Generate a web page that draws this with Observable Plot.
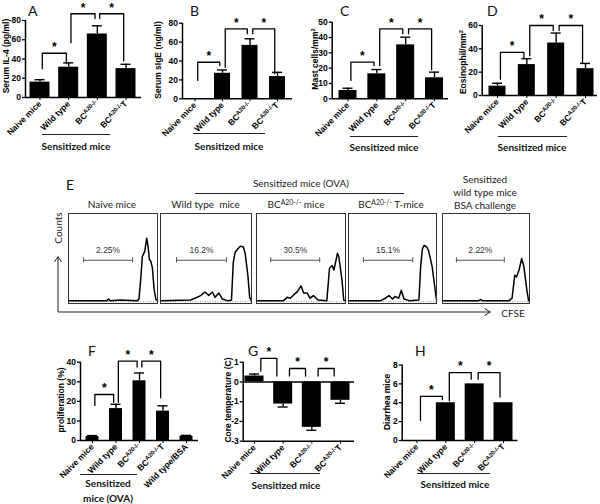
<!DOCTYPE html>
<html>
<head>
<meta charset="utf-8">
<script src="https://cdn.jsdelivr.net/npm/d3@7"></script>
<script src="https://cdn.jsdelivr.net/npm/@observablehq/plot@0.6"></script>
<style>
  html, body { margin: 0; padding: 0; background: #fff; }
  #fig { position: relative; width: 600px; height: 504px; overflow: hidden; background: #fff; }
  #fig svg { overflow: visible; }
  .t { position: absolute; white-space: nowrap; line-height: 1; }
  .yl { font: bold 8.5px "Liberation Sans", Arial, sans-serif; color: #000; }
  .pl { font: 14px Lato, "Open Sans", sans-serif; color: #111; }
  .grp { font: bold 10px Lato, sans-serif; color: #111; }
  .et { font: 10px Lato, sans-serif; color: #222; }
  .t sup { font-size: 0.68em; vertical-align: 0.5em; line-height: 0; }
  .ln { position: absolute; height: 1px; background: #222; }
</style>
</head>
<body>
<div id="fig"></div>
<script>
// ---------------- DATA ----------------
const groups4 = ["Naive mice", "Wild type", "BC^{A20-/-}", "BC^{A20-/-}T"];
const groups5 = ["Naive mice", "Wild type", "BC^{A20-/-}", "BC^{A20-/-}T", "Wild type/BSA"];

// A: Serum IL-4
const il4Mean = [16, 31.5, 66, 30];
const il4Err = [2.5, 4.5, 8.5, 4.5];
const il4Ticks = [0, 20, 40, 60, 80];
const il4Sig = [[0, 1, 46, 30, 35], [1, 2, 87, 57, 82], [2, 3, 87, 82, 38]];

// B: Serum sIgE
const igeMean = [0, 27, 56.5, 23.5];
const igeErr = [0, 3.5, 7, 4.5];
const igeTicks = [0, 20, 40, 60, 80];
const igeSig = [[0, 1, 38.7, 19.4, 35.2], [1, 2, 74, 33.4, 68.8], [2, 3, 74, 68.8, 26.5]];

// C: Mast cells
const mastMean = [5.4, 16.3, 35.2, 13.7];
const mastErr = [1.5, 2.8, 5, 3.7];
const mastTicks = [0, 10, 20, 30, 40, 50];
const mastSig = [[0, 1, 24, 12, 21.7], [1, 2, 45.7, 21.7, 42.4], [2, 3, 45.7, 42.4, 19]];

// D: Eosinophil
const eosMean = [8, 26.5, 45, 23];
const eosErr = [2.5, 5, 8.5, 4.5];
const eosTicks = [0, 20, 40, 60];
const eosSig = [[0, 1, 37, 14, 32], [1, 2, 60, 34, 55.7], [2, 3, 60, 55.7, 28.5]];

// F: proliferation
const prolMean = [2, 16.3, 30.5, 15, 2.2];
const prolErr = [0.5, 2.2, 4, 2.7, 0.4];
const prolTicks = [0, 10, 20, 30, 40];
const prolSig = [[0, 1, 23.5, 17.9, 19.5], [1, 2, 40.5, 19.5, 37.5], [2, 3, 40.5, 37.5, 21.8]];

// G: core temperature
const tempMean = [0.3, -1.12, -2.3, -0.93];
const tempErr = [0.1, 0.15, 0.15, 0.15];
const tempTicks = [-3, -2, -1, 0, 1];
const tempSig = [[0, 1, 1.19, 0.55, 0.3], [1, 2, 0.68, 0.3, 0.3], [2, 3, 0.68, 0.3, 0.3]];

// H: diarrhea mice
const diarMean = [0, 4, 6, 4];
const diarTicks = [0, 2, 4, 6, 8];
const diarSig = [[0, 1, 4.68, 2.13, 4.33], [1, 2, 7.2, 4.2, 6.5], [2, 3, 7.2, 6.5, 4.6]];

// E: CFSE histograms (x = CFSE position %, y = counts %)
const h1x = [0, 43, 45, 47, 58, 77, 79.2, 81.1, 83, 85.7, 87.9, 89.4, 90.9, 92.5, 94.3, 96.2, 98.1, 100];
const h1y = [1, 1, 3, 1, 2, 1, 3, 25, 51.5, 57, 72, 62.7, 47.8, 46, 38, 14, 3, 1];
const h2x = [0, 33, 38, 44, 49, 53, 57, 60, 64, 68, 74, 78, 80, 82, 85, 88, 91, 93, 96, 98, 100];
const h2y = [1, 2, 4, 7, 11, 7, 11, 5, 10, 3, 1, 2, 45, 56, 60, 63, 62, 55, 30, 5, 1];
const h3x = [0, 30, 34.5, 38, 42, 46, 50, 53, 57, 60, 64, 69, 79, 82, 85, 87, 91, 92.5, 96, 98, 100];
const h3y = [1, 1, 5, 4, 8, 11.5, 18, 10, 10, 4, 7, 2, 1, 38, 41, 36, 55, 51, 25, 2, 1];
const h4x = [0, 36, 42, 46, 50, 53, 57, 60, 63, 70, 80, 82, 84, 86, 89, 91, 95, 98, 100];
const h4y = [1, 1, 4, 7, 3, 6, 4, 13, 3, 1, 2, 40, 60, 64, 62, 58, 40, 17, 2];
const h5x = [0, 41, 44, 46, 76, 80, 83, 85, 88, 91, 93.5, 97, 99, 100];
const h5y = [1, 1, 2.5, 1, 1, 4, 30, 28, 36, 49, 40, 13, 1, 1];
const gateLo = [17, 17.6, 16, 17, 16];
const gateHi = [72, 72.5, 71, 73, 71];
const gatePct = ["2.25%", "16.2%", "30.5%", "15.1%", "2.22%"];

// ---------------- HELPERS ----------------
const fig = document.getElementById("fig");
function put(node, left, top) {
  node.style.position = "absolute";
  node.style.left = left + "px";
  node.style.top = top + "px";
  fig.appendChild(node);
}
function txt(cls, content, x, y, opt = {}) {
  const d = document.createElement("div");
  d.className = "t " + cls;
  d.innerHTML = content;
  d.style.left = x + "px";
  d.style.top = y + "px";
  const base = opt.anchor === "start" ? "translate(0,-50%)" : "translate(-50%,-50%)";
  d.style.transform = base + (opt.rotate ? ` rotate(${opt.rotate}deg)` : "");
  fig.appendChild(d);
}
function hline(x1, x2, y) {
  const d = document.createElement("div");
  d.className = "ln";
  d.style.left = x1 + "px"; d.style.top = y + "px"; d.style.width = (x2 - x1) + "px";
  fig.appendChild(d);
}
function supify(svg) {
  d3.select(svg).selectAll("text").each(function () {
    const t = this.textContent;
    const m = t.match(/^(.*)\^\{(.*)\}(.*)$/);
    if (!m) return;
    const s = d3.select(this);
    s.selectAll("*").remove();
    s.text(null);
    s.append("tspan").text(m[1]);
    s.append("tspan").attr("dy", "-3").attr("font-size", "6px").text(m[2]);
    if (m[3]) s.append("tspan").attr("dy", "3").text(m[3]);
  });
}

function barPanel(cfg, cats, mean, err, sig, yTicks, yDomain) {
  const n = cats.length;
  const unit = (cfg.cN - cfg.c0) / (n - 1);
  const xDom = [-(cfg.c0 - cfg.axisX) / unit, n - 1 + (cfg.endX - cfg.cN) / unit];
  const x0 = xDom[0];
  const hw = cfg.barW / 2 / unit, cap = 5 / unit, li = cfg.legInset, tk = 3 / unit;
  const rows = cats.map((c, i) => ({i, v: mean[i], e: err ? err[i] : 0}));
  const tip = d => d.v + (d.v < 0 ? -d.e : d.e);
  const marks = [
    Plot.rect(rows, {x1: d => d.i - hw, x2: d => d.i + hw, y1: 0, y2: "v", fill: "#000"})
  ];
  const er = rows.filter(d => d.e > 0);
  if (er.length) {
    marks.push(Plot.ruleX(er, {x: "i", y1: "v", y2: tip, stroke: "#000", strokeWidth: 1.4}));
    marks.push(Plot.ruleY(er, {y: tip, x1: d => d.i - cap, x2: d => d.i + cap, stroke: "#000", strokeWidth: 1.4}));
  }
  marks.push(Plot.ruleY([yDomain[0]], {stroke: "#000", strokeWidth: 1.5}));
  if (yDomain[0] < 0) marks.push(Plot.ruleY([0], {stroke: "#000", strokeWidth: 1.5}));
  marks.push(Plot.ruleX([x0], {y1: yDomain[0], y2: yDomain[1], stroke: "#000", strokeWidth: 1.5}));
  marks.push(Plot.ruleY(yTicks, {y: d => d, x1: x0 - tk, x2: x0, stroke: "#000", strokeWidth: 1.3}));
  marks.push(Plot.text(yTicks, {x: x0, y: d => d, text: d => String(d), textAnchor: "end", dx: -4.5, fontSize: 8.5, fontWeight: "bold"}));
  for (const [a, b, top, lb, rb] of sig) {
    const pts = [{x: a + li, y: lb}, {x: a + li, y: top}, {x: b - li, y: top}, {x: b - li, y: rb}];
    marks.push(Plot.line(pts, {x: "x", y: "y", stroke: "#000", strokeWidth: 1.3}));
    marks.push(Plot.text([{x: (a + b) / 2, y: top}], {x: "x", y: "y", text: () => "*", dy: -6, fontSize: 12}));
  }
  const svg = Plot.plot({
    width: cfg.endX - cfg.left,
    height: cfg.yBot - cfg.top + cfg.mb,
    marginLeft: cfg.axisX - cfg.left,
    marginRight: 0,
    marginTop: cfg.yTop - cfg.top,
    marginBottom: cfg.mb,
    style: {background: "transparent", overflow: "visible", fontFamily: "'Liberation Sans', Arial, sans-serif",
            fontSize: "8.5px", fontWeight: "bold", color: "#000"},
    x: {domain: xDom, ticks: d3.range(n), tickFormat: i => cats[i], tickRotate: -45, tickSize: 3, tickPadding: 2, label: null},
    y: {domain: yDomain, axis: null},
    marks
  });
  supify(svg);
  put(svg, cfg.left, cfg.top);
}

function histPanel(box, xs, ys, k) {
  const pts = xs.map((x, j) => ({x, y: ys[j]}));
  const gy = 47;
  const lo = gateLo[k], hi = gateHi[k];
  const svg = Plot.plot({
    width: box[2] - box[0], height: box[3] - box[1],
    margin: 0,
    style: {background: "transparent", overflow: "visible", fontFamily: "'Liberation Sans', Arial, sans-serif",
            fontSize: "8.5px", color: "#000"},
    x: {domain: [0, 100], axis: null},
    y: {domain: [-2, 100], axis: null},
    marks: [
      Plot.ruleY([0], {stroke: "#888", strokeDasharray: "1,1.5"}),
      Plot.line(pts, {x: "x", y: "y", stroke: "#000", strokeWidth: 1.5}),
      Plot.ruleY([gy], {x1: lo, x2: hi, stroke: "#555"}),
      Plot.ruleX([lo, hi], {y1: gy - 3, y2: gy + 3, stroke: "#555"}),
      Plot.text([gatePct[k]], {x: (lo + hi) / 2, y: gy + 11, text: d => d, fill: "#333"}),
      Plot.frame({stroke: "#333"})
    ]
  });
  put(svg, box[0], box[1]);
}

// ---------------- ARROWS (panel E) ----------------
const ov = d3.create("svg").attr("width", 600).attr("height", 504)
  .style("position", "absolute").style("left", "0px").style("top", "0px");
ov.append("path").attr("d", "M58,312V257M54.5,262L58,256.5L61.5,262").attr("fill", "none").attr("stroke", "#222");
ov.append("path").attr("d", "M58,312H490M484.5,308.5L490.5,312L484.5,315.5").attr("fill", "none").attr("stroke", "#222");
fig.appendChild(ov.node());

// ---------------- BAR PANELS ----------------
barPanel({left: 0, top: 0, axisX: 25, endX: 141, c0: 39.5, cN: 125.5, yTop: 20, yBot: 97, mb: 42, barW: 20, legInset: 0.08},
  groups4, il4Mean, il4Err, il4Sig, il4Ticks, [0, 80]);
barPanel({left: 150, top: 0, axisX: 182, endX: 292, c0: 194.5, cN: 277, yTop: 22.7, yBot: 98.3, mb: 42, barW: 16, legInset: 0.1},
  groups4, igeMean, igeErr, igeSig, igeTicks, [0, 80]);
barPanel({left: 300, top: 0, axisX: 331.7, endX: 448, c0: 347.5, cN: 434, yTop: 21.7, yBot: 98.3, mb: 42, barW: 18, legInset: 0.1},
  groups4, mastMean, mastErr, mastSig, mastTicks, [0, 50]);
barPanel({left: 445, top: 0, axisX: 481.7, endX: 597, c0: 497, cN: 585, yTop: 25, yBot: 95, mb: 42, barW: 17, legInset: 0.1},
  groups4, eosMean, eosErr, eosSig, eosTicks, [0, 60]);
barPanel({left: 55, top: 340, axisX: 80, endX: 198, c0: 92, cN: 186, yTop: 361.7, yBot: 440, mb: 55, barW: 13, legInset: 0.1},
  groups5, prolMean, prolErr, prolSig, prolTicks, [0, 40]);
barPanel({left: 215, top: 340, axisX: 242.7, endX: 354, c0: 254, cN: 340, yTop: 361.7, yBot: 440.7, mb: 42, barW: 19, legInset: 0.22},
  groups4, tempMean, tempErr, tempSig, tempTicks, [-3, 1]);
barPanel({left: 380, top: 340, axisX: 401.7, endX: 517.5, c0: 416.5, cN: 503, yTop: 364.5, yBot: 440, mb: 42, barW: 19, legInset: 0.12},
  groups4, diarMean, null, diarSig, diarTicks, [0, 8]);

// ---------------- HISTOGRAMS ----------------
histPanel([68, 213, 157, 303], h1x, h1y, 0);
histPanel([160, 213, 251, 303], h2x, h2y, 1);
histPanel([256, 213, 345, 303], h3x, h3y, 2);
histPanel([348, 213, 436, 303], h4x, h4y, 3);
histPanel([442, 213, 529, 303], h5x, h5y, 4);

// ---------------- TEXT ----------------
txt("yl", "Serum IL-4 (pg/ml)", 6, 56, {rotate: -90});
txt("yl", "Serum sIgE (ng/ml)", 158, 60, {rotate: -90});
txt("yl", "Mast cells/mm<sup>2</sup>", 314.5, 59, {rotate: -90});
txt("yl", "Eosinophil/mm<sup>2</sup>", 463, 62, {rotate: -90});
txt("yl", "proliferation (%)", 61, 400, {rotate: -90});
txt("yl", "Core temperature (C)", 227.5, 400, {rotate: -90});
txt("yl", "Diarrhea mice", 386.5, 402, {rotate: -90});
txt("pl", "A", 28, 10, {anchor: "start"});
txt("pl", "B", 190, 10, {anchor: "start"});
txt("pl", "C", 340, 10, {anchor: "start"});
txt("pl", "D", 487, 10, {anchor: "start"});
txt("pl", "E", 66, 184, {anchor: "start"});
txt("pl", "F", 88, 350, {anchor: "start"});
txt("pl", "G", 248, 350, {anchor: "start"});
txt("pl", "H", 415, 350, {anchor: "start"});
hline(42, 110, 134); txt("grp", "Sensitized mice", 76, 146);
hline(193, 265, 133); txt("grp", "Sensitized mice", 229, 146);
hline(350, 418, 136); txt("grp", "Sensitized mice", 384, 147);
hline(498, 567, 136); txt("grp", "Sensitized mice", 532, 147);
hline(80, 137, 474); txt("grp", "Sensitized", 108, 483); txt("grp", "mice (OVA)", 108, 498);
hline(250, 320, 473); txt("grp", "Sensitized mice", 286, 485);
hline(417, 490, 473); txt("grp", "Sensitized mice", 455, 484);
txt("et", "Sensitized mice (OVA)", 301, 183);
hline(195, 404, 193);
txt("et", "Naive mice", 112, 204);
txt("et", "Wild type&nbsp; mice", 205.5, 204);
txt("et", "BC<sup>A20-/-</sup> mice", 296, 204);
txt("et", "BC<sup>A20-/-</sup> T-mice", 391, 204);
txt("et", "Sensitized", 485, 179);
txt("et", "wild type mice", 485, 192);
txt("et", "BSA challenge", 485, 205);
txt("et", "Counts", 58, 228, {rotate: -90});
txt("et", "CFSE", 513, 313);
</script>
</body>
</html>
